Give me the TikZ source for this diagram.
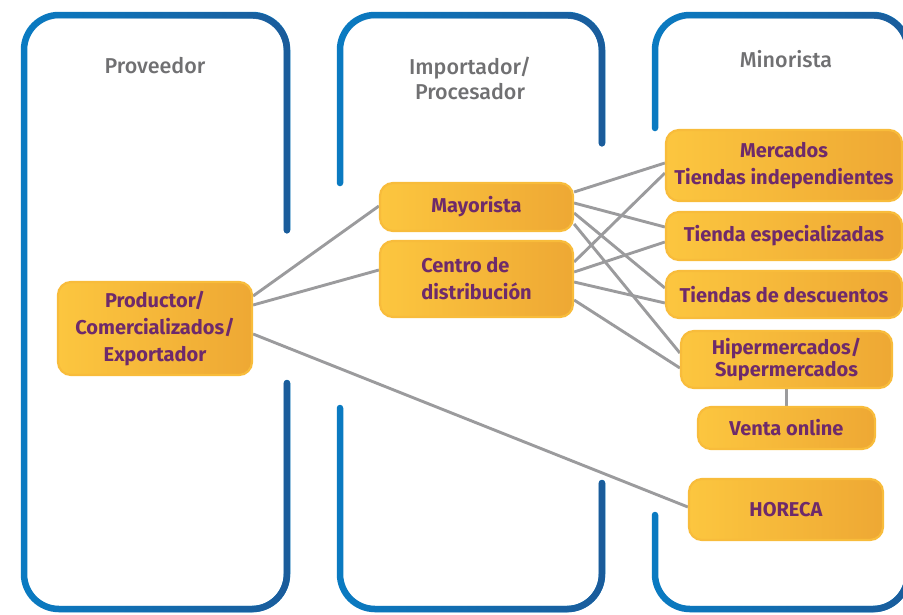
\documentclass[tikz,border=0pt]{standalone}
\usepackage{fontspec}
\setmainfont{Fira Sans}
\newfontfamily\headfont{Fira Sans Medium}
\usetikzlibrary{fadings}
\definecolor{panelA}{HTML}{0A7BC2}
\definecolor{panelB}{HTML}{1B5C9B}
\definecolor{boxL}{HTML}{FCC63F}
\definecolor{boxR}{HTML}{EEA834}
\definecolor{boxEdge}{HTML}{F8BC3B}
\definecolor{labelpurple}{HTML}{6E2A6B}
\definecolor{headgray}{HTML}{707072}
\definecolor{linkgray}{HTML}{9B9B9D}
\pgfdeclarelayer{bg}
\pgfsetlayers{bg,main}
% one column frame: light blue stroke, darker blue faded in towards the right
\newcommand\columnframe[1]{%
  \draw[frame,panelA] #1;
  \draw[frame,panelB,path fading=west] #1;}
\begin{document}
\begin{tikzpicture}[x=1pt,y=-1pt,
  frame/.style={line width=6.5pt,line cap=round,rounded corners=35pt},
  stage/.style={rounded corners=13pt,draw=boxEdge,line width=2.2pt,
    left color=boxL,right color=boxR,text=labelpurple,
    font=\fontsize{20}{27}\selectfont\bfseries,align=center,inner sep=0pt},
  head/.style={text=headgray,font=\headfont\fontsize{21.5}{25}\selectfont,align=center},
  link/.style={draw=linkgray,line width=2.9pt}]
\useasboundingbox (0,0) rectangle (903,614);

% column headings
\node[head] (hprov) at (155,66) {Proveedor};
\node[head] (himp) at (470,78) {Importador/\\Procesador};
\node[head] (hmin) at (786,59) {Minorista};

% supplier
\node[stage,minimum width=194pt,minimum height=93pt] (prod) at (155,328.5)
  {Productor/\\Comercializados/\\Exportador};
% importer / processor
\node[stage,minimum width=193pt,minimum height=48pt] (mayo) at (476.5,207) {Mayorista};
\node[stage,minimum width=193pt,minimum height=76pt,align=left] (cent) at (476.5,279)
  {Centro de\\distribución};
% retail
\node[stage,minimum width=236pt,minimum height=71pt] (merc) at (784,165.5)
  {Mercados\\Tiendas independientes};
\node[stage,minimum width=236pt,minimum height=48pt] (espe) at (784,236) {Tienda especializadas};
\node[stage,minimum width=236pt,minimum height=47pt] (desc) at (784,294.5) {Tiendas de descuentos};
\node[stage,minimum width=211pt,minimum height=57pt,
  font=\fontsize{20}{22.5}\selectfont\bfseries] (hiper) at (786.5,359.5)
  {Hipermercados/\\Supermercados};
\node[stage,minimum width=177pt,minimum height=42pt] (venta) at (786.5,428) {Venta online};
\node[stage,minimum width=194pt,minimum height=61pt] (horeca) at (786,509.5) {HORECA};

\begin{pgfonlayer}{bg}
  % column frames
  \columnframe{(287,230) -- (287,15) -- (24,15) -- (24,609) -- (287,609) -- (287,383)}
  \columnframe{(340,183) -- (340,15) -- (602,15) -- (602,143)
    (602,483) -- (602,609) -- (340,609) -- (340,408)}
  \columnframe{(655,128) -- (655,15) -- (908,15) -- (908,609) -- (655,609) -- (655,515)}

  % flows
  \draw[link] (prod.east |- 0,296) -- (mayo.west |- 0,206);
  \draw[link] (prod.east |- 0,305) -- (cent.west |- 0,270);
  \draw[link] (prod.east |- 0,334) -- (horeca.west |- 0,507);
  \draw[link] (mayo.east |- 0,192) -- (merc.west |- 0,163);
  \draw[link] (mayo.east |- 0,203) -- (espe.west |- 0,227);
  \draw[link] (mayo.east |- 0,213) -- (desc.west |- 0,288);
  \draw[link] (mayo.east |- 0,224) -- (hiper.west |- 0,353);
  \draw[link] (cent.east |- 0,262) -- (merc.west |- 0,173);
  \draw[link] (cent.east |- 0,272) -- (espe.west |- 0,242);
  \draw[link] (cent.east |- 0,282) -- (desc.west |- 0,303);
  \draw[link] (cent.east |- 0,300) -- (hiper.west |- 0,368);
  \draw[link] (hiper.south) -- (venta.north);
\end{pgfonlayer}
\end{tikzpicture}
\end{document}
